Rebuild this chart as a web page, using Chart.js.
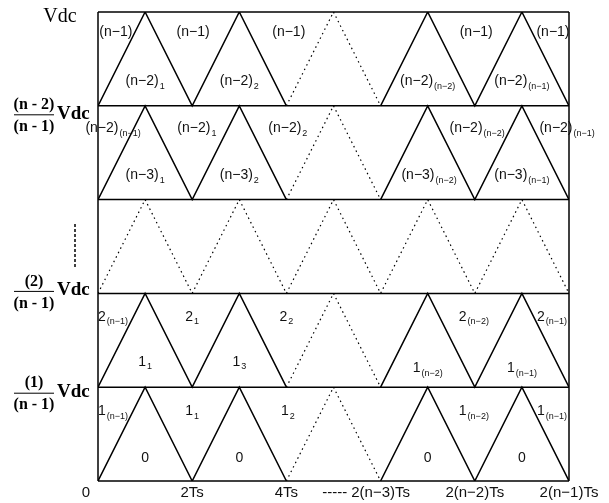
<!DOCTYPE html>
<html>
<head>
<meta charset="utf-8">
<script src="https://cdn.jsdelivr.net/npm/chart.js@4"></script>
<style>body{margin:0;background:#fff}</style>
</head>
<body>
<canvas id="chart" width="609" height="503"></canvas>
<script>
// time nodes in units of Ts
const carrierX = [0, 1, 2, 3, 4, 5, 6, 7, 8, 9, 10];
// carrier levels for each band (bottom band first)
const carrier1 = [0, 1, 0, 1, 0, 1, 0, 1, 0, 1, 0];
const carrier2 = [1, 2, 1, 2, 1, 2, 1, 2, 1, 2, 1];
const carrier3 = [2, 3, 2, 3, 2, 3, 2, 3, 2, 3, 2];
const carrier4 = [3, 4, 3, 4, 3, 4, 3, 4, 3, 4, 3];
const carrier5 = [4, 5, 4, 5, 4, 5, 4, 5, 4, 5, 4];
// which periods are only sketched (dotted) in each band
const dottedPeriods = [[2], [2], [0, 1, 2, 3, 4], [2], [2]];

const bandLevels = [0, 1, 2, 3, 4, 5];
const xTicks = [0, 2, 4, 6, 8, 10];
const xTickLabels = ["0", "2Ts", "4Ts", "----- 2(n\u22123)Ts", "2(n\u22122)Ts", "2(n\u22121)Ts"];

// cell labels: [x (Ts), level, text, subscript]
const cellLabels = [
  [0.38, 4.78, "(n\u22121)", ""], [2.02, 4.78, "(n\u22121)", ""], [4.05, 4.78, "(n\u22121)", ""],
  [8.03, 4.78, "(n\u22121)", ""], [9.66, 4.78, "(n\u22121)", ""],
  [1, 4.26, "(n\u22122)", "1"], [3, 4.26, "(n\u22122)", "2"], [7, 4.26, "(n\u22122)", "(n\u22122)"], [9, 4.26, "(n\u22122)", "(n\u22121)"],
  [0.32, 3.76, "(n\u22122)", "(n\u22121)"], [2.1, 3.76, "(n\u22122)", "1"], [4.03, 3.76, "(n\u22122)", "2"],
  [8.05, 3.76, "(n\u22122)", "(n\u22122)"], [9.96, 3.76, "(n\u22122)", "(n\u22121)"],
  [1, 3.26, "(n\u22123)", "1"], [3, 3.26, "(n\u22123)", "2"], [7.03, 3.26, "(n\u22123)", "(n\u22122)"], [9, 3.26, "(n\u22123)", "(n\u22121)"],
  [0.32, 1.75, "2", "(n\u22121)"], [2, 1.75, "2", "1"], [4, 1.75, "2", "2"], [7.98, 1.75, "2", "(n\u22122)"], [9.64, 1.75, "2", "(n\u22121)"],
  [1, 1.27, "1", "1"], [3, 1.27, "1", "3"], [7, 1.2, "1", "(n\u22122)"], [9, 1.2, "1", "(n\u22121)"],
  [0.32, 0.74, "1", "(n\u22121)"], [2, 0.74, "1", "1"], [4.03, 0.74, "1", "2"], [7.98, 0.74, "1", "(n\u22122)"], [9.64, 0.74, "1", "(n\u22121)"],
  [1, 0.245, "0", ""], [3, 0.245, "0", ""], [7, 0.245, "0", ""], [9, 0.245, "0", ""]
];

// y axis labels: [level, numerator, denominator]
const levelLabels = [
  [4, "(n - 2)", "(n - 1)"],
  [2, "(2)", "(n - 1)"],
  [1, "(1)", "(n - 1)"]
];

const SANS = '"Liberation Sans", Arial, sans-serif';
const SERIF = '"Liberation Serif", "Times New Roman", serif';

function drawSub(ctx, x, y, base, sub) {
  ctx.font = "14px " + SANS;
  const w1 = ctx.measureText(base).width;
  ctx.font = "9px " + SANS;
  const w2 = sub ? ctx.measureText(sub).width + 1 : 0;
  const left = x - (w1 + w2) / 2;
  ctx.textAlign = "left";
  ctx.textBaseline = "middle";
  ctx.font = "14px " + SANS;
  ctx.fillText(base, left, y);
  if (sub) {
    ctx.font = "9px " + SANS;
    ctx.fillText(sub, left + w1 + 1, y + 5);
  }
}

const diagramPlugin = {
  id: "diagram",
  beforeDatasetsDraw(chart) {
    const ctx = chart.ctx;
    const xs = chart.scales.x, ys = chart.scales.y;
    ctx.save();
    ctx.strokeStyle = "#000";
    ctx.lineWidth = 1.5;
    bandLevels.forEach(l => {
      const py = ys.getPixelForValue(l);
      ctx.beginPath();
      ctx.moveTo(xs.getPixelForValue(0), py);
      ctx.lineTo(xs.getPixelForValue(10), py);
      ctx.stroke();
    });
    [0, 10].forEach(v => {
      const px = xs.getPixelForValue(v);
      ctx.beginPath();
      ctx.moveTo(px, ys.getPixelForValue(0));
      ctx.lineTo(px, ys.getPixelForValue(5));
      ctx.stroke();
    });
    ctx.restore();
  },
  afterDatasetsDraw(chart) {
    const ctx = chart.ctx;
    const xs = chart.scales.x, ys = chart.scales.y;
    ctx.save();
    ctx.fillStyle = "#111";

    cellLabels.forEach(([x, y, base, sub]) => {
      drawSub(ctx, xs.getPixelForValue(x), ys.getPixelForValue(y), base, sub);
    });

    // x axis labels
    ctx.font = "15px " + SANS;
    ctx.textBaseline = "middle";
    const ly = ys.getPixelForValue(0) + 12;
    xTicks.forEach((t, i) => {
      let px = xs.getPixelForValue(t);
      let txt = xTickLabels[i];
      if (i === 0) px -= 12;
      if (txt.startsWith("-----")) {
        txt = txt.replace("----- ", "");
        const w = ctx.measureText(txt).width;
        ctx.textAlign = "right";
        ctx.fillText("-----", px - w / 2 - 4, ly);
      }
      ctx.textAlign = "center";
      ctx.fillText(txt, px, ly);
    });

    // y axis labels
    ctx.fillStyle = "#000";
    ctx.font = "20px " + SERIF;
    ctx.textAlign = "center";
    ctx.fillText("Vdc", 60, ys.getPixelForValue(5) + 5);

    const barOffset = {4: 9, 2: -2, 1: 6};
    levelLabels.forEach(([lvl, num, den]) => {
      const bar = ys.getPixelForValue(lvl) + barOffset[lvl];
      ctx.font = "bold 16px " + SERIF;
      ctx.textAlign = "center";
      ctx.fillText(num, 34, bar - 10);
      ctx.fillText(den, 34, bar + 12);
      ctx.fillRect(14, bar - 0.5, 40, 1);
      ctx.font = "bold 19px " + SERIF;
      ctx.textAlign = "left";
      ctx.fillText("Vdc", 57, bar - 1);
    });

    // vertical dashes for the omitted levels
    ctx.strokeStyle = "#000";
    ctx.lineWidth = 1.5;
    ctx.setLineDash([3, 2]);
    ctx.beginPath();
    ctx.moveTo(75, ys.getPixelForValue(2.74));
    ctx.lineTo(75, ys.getPixelForValue(2.26));
    ctx.stroke();
    ctx.restore();
  }
};

const carriers = [carrier1, carrier2, carrier3, carrier4, carrier5];

const datasets = carriers.map((levels, b) => ({
  data: carrierX.map((x, i) => ({ x: x, y: levels[i] })),
  borderColor: "#000",
  borderWidth: 1.5,
  pointRadius: 0,
  tension: 0,
  fill: false,
  segment: {
    borderDash: c => dottedPeriods[b].includes(Math.floor(c.p0DataIndex / 2)) ? [1.5, 3.5] : undefined,
    borderWidth: c => dottedPeriods[b].includes(Math.floor(c.p0DataIndex / 2)) ? 1.2 : 1.5
  }
}));

new Chart(document.getElementById("chart").getContext("2d"), {
  type: "line",
  data: { datasets: datasets },
  options: {
    responsive: false,
    animation: false,
    layout: { padding: { left: 98, right: 40, top: 12, bottom: 22 } },
    scales: {
      x: { type: "linear", min: 0, max: 10, display: false },
      y: { type: "linear", min: 0, max: 5, display: false }
    },
    plugins: { legend: { display: false }, tooltip: { enabled: false } }
  },
  plugins: [diagramPlugin]
});
</script>
</body>
</html>
